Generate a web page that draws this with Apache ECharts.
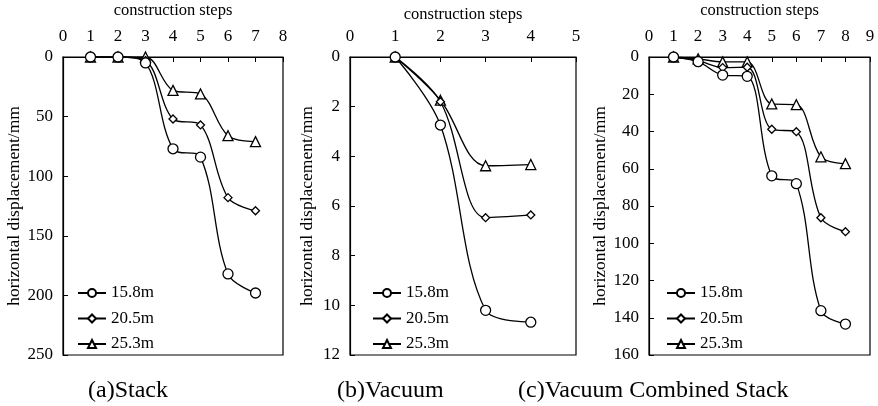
<!DOCTYPE html>
<html>
<head>
<meta charset="utf-8">
<script src="https://cdn.jsdelivr.net/npm/echarts@6/dist/echarts.min.js"></script>
<style>
  html, body { margin: 0; padding: 0; background: #fff; }
  #chart { width: 878px; height: 406px; }
</style>
</head>
<body>
<div id="chart"></div>
<script>
// 数据
var seriesNames = ['15.8m', '20.5m', '25.3m'];
var symbols = ['circle', 'diamond', 'triangle'];
var symbolSizes = [10, 8, 10];

// (a) Stack
var stepsA = [1, 2, 3, 4, 5, 6, 7];
var stackA158 = [0, 0, 5, 77, 84, 182, 198];
var stackA205 = [0, 0, 3, 52, 57, 118, 129];
var stackA253 = [0, 0, 0, 28, 31, 66, 71];

// (b) Vacuum
var stepsB = [1, 2, 3, 4];
var vacB158 = [0, 2.74, 10.2, 10.68];
var vacB205 = [0, 1.8, 6.47, 6.36];
var vacB253 = [0, 1.74, 4.38, 4.33];

// (c) Vacuum Combined Stack
var stepsC = [1, 2, 3, 4, 5, 6, 7, 8];
var combC158 = [0, 2.5, 9.7, 10.4, 63.8, 68, 136.2, 143.4];
var combC205 = [0, 2, 5.7, 5.5, 38.8, 40.1, 86.3, 93.8];
var combC253 = [0, 1, 2.6, 2.6, 25.2, 25.6, 53.6, 57.3];

var font = 'Liberation Serif';

function pairs (xs, ys) {
  return xs.map(function (x, i) { return [x, ys[i]]; });
}

function makeSeries (idx, xs, lists) {
  return lists.map(function (ys, k) {
    return {
      name: seriesNames[k],
      type: 'line',
      xAxisIndex: idx,
      yAxisIndex: idx,
      smooth: 0.35,
      symbol: symbols[k],
      symbolSize: symbolSizes[k],
      showAllSymbol: true,
      lineStyle: { color: '#000', width: 1.3 },
      itemStyle: { color: '#fff', borderColor: '#000', borderWidth: 1.3 },
      data: pairs(xs, ys),
      z: 3 - k
    };
  });
}

function makeX (idx, max, nameGap) {
  return {
    gridIndex: idx,
    type: 'value',
    position: 'top',
    min: 0,
    max: max,
    interval: 1,
    name: 'construction steps',
    nameLocation: 'middle',
    nameGap: nameGap,
    nameTextStyle: { color: '#000', fontFamily: font, fontSize: 16.5 },
    axisLine: { show: true, lineStyle: { color: '#000', width: 1.2 } },
    axisTick: { show: true, inside: true, length: 5, lineStyle: { color: '#000' } },
    axisLabel: { color: '#000', fontFamily: font, fontSize: 17, margin: 12 },
    splitLine: { show: false }
  };
}

function makeY (idx, max, interval, nameGap) {
  return {
    gridIndex: idx,
    type: 'value',
    inverse: true,
    min: 0,
    max: max,
    interval: interval,
    name: 'horizontal displacement/mm',
    nameLocation: 'middle',
    nameGap: nameGap,
    nameTextStyle: { color: '#000', fontFamily: font, fontSize: 17.5 },
    axisLine: { show: true, lineStyle: { color: '#000', width: 1.2 } },
    axisTick: { show: true, inside: true, length: 5, lineStyle: { color: '#000' } },
    axisLabel: { color: '#000', fontFamily: font, fontSize: 17, margin: 10 },
    splitLine: { show: false }
  };
}

function makeLegend (left) {
  return {
    data: seriesNames,
    orient: 'vertical',
    left: left,
    top: 279,
    itemWidth: 28,
    itemHeight: 10,
    itemGap: 7.5,
    textStyle: { color: '#000', fontFamily: font, fontSize: 17, lineHeight: 18 },
    selectedMode: false
  };
}

var myChart = echarts.init(document.getElementById('chart'));
var gridStyle = {
  show: true,
  borderColor: '#000',
  borderWidth: 1.2,
  backgroundColor: 'transparent',
  outerBoundsMode: 'none'
};
var captionFont = '24px "Liberation Serif"';

var option = {
  backgroundColor: '#fff',
  animation: false,
  grid: [
    Object.assign({ left: 63, top: 57, width: 220, height: 298 }, gridStyle),
    Object.assign({ left: 350, top: 57, width: 226, height: 298 }, gridStyle),
    Object.assign({ left: 649, top: 57, width: 221, height: 298 }, gridStyle)
  ],
  xAxis: [makeX(0, 8, 38), makeX(1, 5, 32), makeX(2, 9, 38)],
  yAxis: [makeY(0, 250, 50, 39), makeY(1, 12, 2, 34), makeY(2, 160, 20, 38)],
  legend: [makeLegend(72), makeLegend(367), makeLegend(661)],
  graphic: [
    { type: 'text', left: 88, top: 379, style: { text: '(a)Stack', fill: '#000', font: captionFont } },
    { type: 'text', left: 337, top: 379, style: { text: '(b)Vacuum', fill: '#000', font: captionFont } },
    { type: 'text', left: 518, top: 379, style: { text: '(c)Vacuum Combined Stack', fill: '#000', font: captionFont } }
  ],
  series: []
    .concat(makeSeries(0, stepsA, [stackA158, stackA205, stackA253]))
    .concat(makeSeries(1, stepsB, [vacB158, vacB205, vacB253]))
    .concat(makeSeries(2, stepsC, [combC158, combC205, combC253]))
};

myChart.setOption(option);
</script>
</body>
</html>
